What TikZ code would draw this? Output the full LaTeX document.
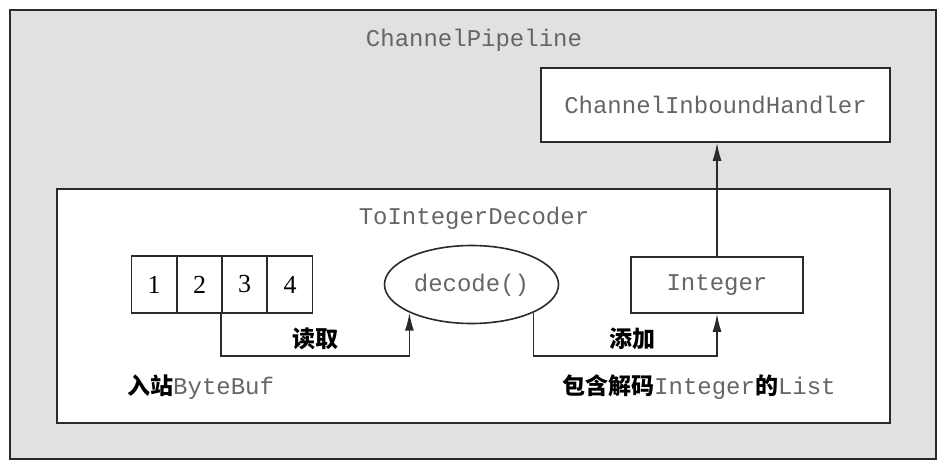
\documentclass[tikz,border=0pt]{standalone}
\usepackage{fontspec}
\setmainfont{Liberation Serif}
\setmonofont{Liberation Mono}
\newfontfamily\cjk{Noto Sans CJK SC}
\usetikzlibrary{arrows.meta,shapes.geometric,calc}
\definecolor{bggray}{HTML}{E1E1E1}
\definecolor{edge}{HTML}{2A2A2A}
\definecolor{monotext}{HTML}{666666}
\tikzset{
  box/.style={draw=edge, line width=1.6pt, fill=white, inner sep=0pt},
  mono/.style={font=\fontsize{24}{28}\selectfont\ttfamily, text=monotext},
  cjklbl/.style={font=\fontsize{23}{28}\selectfont\cjk\bfseries, text=black},
  cell/.style={box, minimum width=45pt, minimum height=57pt, font=\fontsize{26}{28}\selectfont\rmfamily},
  conn/.style={draw=edge, line width=1.6pt, -{Latex[length=18pt,width=9pt]}},
}
\begin{document}
\begin{tikzpicture}[x=1pt,y=-1pt]
\useasboundingbox (0,0) rectangle (948,469);
\node[draw=edge, line width=2pt, fill=bggray, minimum width=926pt, minimum height=449pt, inner sep=0pt] (outer) at (473,234.5) {};
\node[mono] (cp) at (474,40) {ChannelPipeline};
\node[box, minimum width=349pt, minimum height=74pt] (cih) at (715.5,105) {};
\node[mono] (cihtxt) at (715.5,105) {ChannelInboundHandler};
\node[box, minimum width=833pt, minimum height=234pt] (decoder) at (473.5,306) {};
\node[mono] (tid) at (474,218) {ToIntegerDecoder};
\node[cell] (c1) at (154,284.5) {1};
\node[cell] (c2) at (199.5,284.5) {2};
\node[cell] (c3) at (244.5,284.5) {3};
\node[cell] (c4) at (290,284.5) {4};
\node[box, ellipse, minimum width=174pt, minimum height=78pt] (dec) at (471.5,284.5) {};
\node[mono] (dectxt) at (471.5,285) {decode()};
\node[box, minimum width=172pt, minimum height=56pt] (int) at (717,285) {};
\node[mono] (inttxt) at (717,285) {Integer};
\coordinate (low) at (0,356);
\draw[conn] (c3.south west) -- (c3.south west |- low) -| (dec.south west);
\draw[conn] (dec.south east) -- (dec.south east |- low) -| (int.south);
\draw[conn] (int.north) -- (int.north |- cih.south);
\node[cjklbl] (read) at (315,339) {读取};
\node[cjklbl] (add) at (632,339) {添加};
\node[anchor=west, inner sep=0pt] (inlbl) at (127,387) {{\fontsize{23}{28}\selectfont\cjk\bfseries 入站}{\fontsize{24}{28}\selectfont\ttfamily\color{monotext}ByteBuf}};
\node[anchor=west, inner sep=0pt] (listlbl) at (562,387) {{\fontsize{23}{28}\selectfont\cjk\bfseries 包含解码}{\fontsize{24}{28}\selectfont\ttfamily\color{monotext}Integer}{\fontsize{23}{28}\selectfont\cjk\bfseries 的}{\fontsize{24}{28}\selectfont\ttfamily\color{monotext}List}};
\end{tikzpicture}
\end{document}
